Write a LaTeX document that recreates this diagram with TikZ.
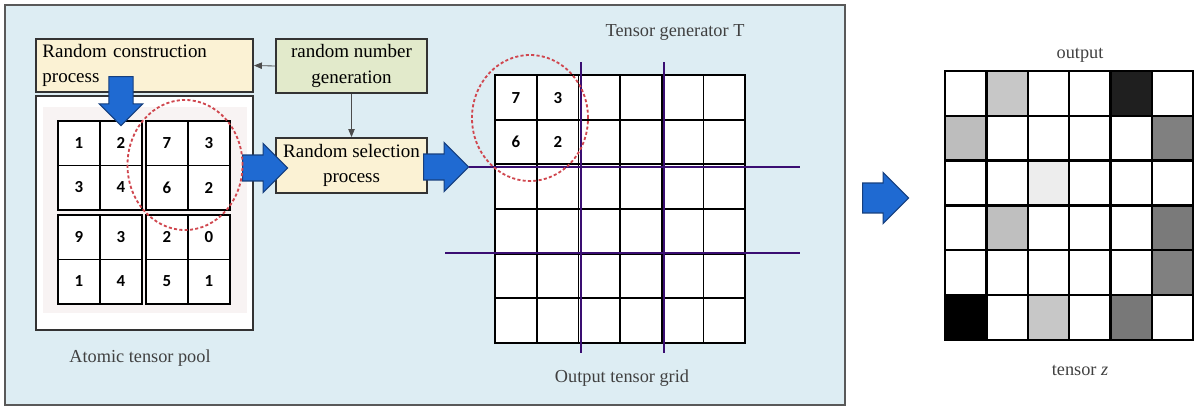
\documentclass[tikz,border=0pt]{standalone}
\usepackage{fontspec}
\setmainfont{Liberation Serif}
\newfontfamily\digitfont{Carlito}
\usepackage{tikz}
\usetikzlibrary{arrows.meta,positioning,shapes.geometric,shapes.arrows}
\usepackage{xcolor}

\definecolor{panelbg}{HTML}{DDEDF3}
\definecolor{boxyellow}{HTML}{FBF2D4}
\definecolor{boxgreen}{HTML}{E2EACB}
\definecolor{poolshade}{HTML}{F8F3F3}
\definecolor{arrowblue}{HTML}{1F6AD2}
\definecolor{arrowedge}{HTML}{163F7E}
\definecolor{cutline}{HTML}{3A0E72}
\definecolor{pickred}{HTML}{D0474F}

\begin{document}
\begin{tikzpicture}[x=0.025cm, y=-0.025cm,
  proc/.style={draw=black!80, line width=1.3pt, font=\fontsize{13.5}{18}\selectfont, inner sep=3pt},
  cellnum/.style={font=\digitfont\bfseries\fontsize{12}{12}\selectfont},
  blk/.style={draw=black, line width=1.2pt},
  lbl/.style={font=\fontsize{13}{15}\selectfont, text=black!75},
  picksel/.style={ellipse, draw=pickred, dash pattern=on 2.2pt off 1.6pt, line width=1.3pt, inner sep=0pt},
  blkarr/.style={single arrow, draw=arrowedge, fill=arrowblue, line width=0.8pt, inner xsep=0pt, anchor=tail},
  link/.style={-{Triangle[length=2mm, width=1.6mm]}, draw=black!70, line width=0.6pt},
  cutln/.style={draw=cutline, line width=2pt}
]
\useasboundingbox (0,0) rectangle (1194,408);

% Panel
\draw[draw=black!65, line width=1.3pt, fill=panelbg] (5,5) rectangle (845,405);

% Process boxes
\node[proc, fill=boxyellow, minimum width=5.425cm, minimum height=1.325cm, text width=5.1cm, align=left] (construct) at (144.5,65.5) {Random construction\\process};
\node[proc, fill=boxgreen, minimum width=3.775cm, minimum height=1.35cm, align=center] (rng) at (351.5,66) {random number\\generation};
\node[proc, fill=boxyellow, minimum width=3.775cm, minimum height=1.375cm, align=center] (select) at (351.5,165.5) {Random selection\\process};
\draw[link] (rng.west) -- (construct.east);
\draw[link] (rng.south) -- (select.north);

% Atomic tensor pool
\node[draw=black!80, line width=1.3pt, fill=white, minimum width=5.425cm, minimum height=5.85cm] (pool) at (144.5,213) {};
\fill[poolshade] (43,107) rectangle (247,313);
\foreach \bx/\by/\a/\b/\c/\d [count=\k] in {58/121/1/2/3/4, 146/121/7/3/6/2, 58/215/9/3/1/4, 146/215/2/0/5/1}{
  \draw[blk, fill=white] (\bx,\by) rectangle ++(84,89);
  \draw[blk] (\bx+42,\by) -- ++(0,89) (\bx,\by+44.5) -- ++(84,0);
  \node[cellnum] (p\k a) at (\bx+21,\by+22) {\a};
  \node[cellnum] (p\k b) at (\bx+63,\by+22) {\b};
  \node[cellnum] (p\k c) at (\bx+21,\by+66.5) {\c};
  \node[cellnum] (p\k d) at (\bx+63,\by+66.5) {\d};
}
\node[lbl] (poolname) at (140,358) {Atomic tensor pool};

% Block arrows
\node[blkarr, inner ysep=0.29cm, minimum height=1.225cm, minimum width=1.05cm, single arrow head extend=0.2375cm, rotate=-90] (drop) at (121,76) {};
\node[blkarr, inner ysep=0.31cm, minimum height=1.125cm, minimum width=1.2cm, single arrow head extend=0.2875cm] (push) at (242,168) {};
\node[blkarr, inner ysep=0.31cm, minimum height=1.125cm, minimum width=1.2cm, single arrow head extend=0.2875cm] (feed) at (423,167) {};

% Tensor generator grid
\draw[blk, fill=white] (495,75) rectangle (745,343);
\foreach \i in {1,...,5}{
  \draw[blk] (495+\i*41.667,75) -- (495+\i*41.667,343);
  \draw[blk] (495,75+\i*44.667) -- (745,75+\i*44.667);
}
\node[cellnum] (g7) at (516,98) {7};
\node[cellnum] (g3) at (558,98) {3};
\node[cellnum] (g6) at (516,142) {6};
\node[cellnum] (g2) at (558,142) {2};
\coordinate (cutend) at (800,167);
\draw[cutln] (581,62) -- (581,353);
\draw[cutln] (664,62) -- (664,353);
\draw[cutln] (feed.tip) -- (cutend);
\draw[cutln] (445,253) -- (800,253);
\node[lbl] (genname) at (675,32) {Tensor generator T};
\node[lbl] (gridname) at (622,378) {Output tensor grid};

% Selection rings
\node[picksel, minimum width=2.875cm, minimum height=3.25cm] (pickpool) at (185,165) {};
\node[picksel, minimum width=2.9cm, minimum height=3.15cm] (pickgrid) at (530,118) {};

% Output tensor
\node[blkarr, inner ysep=0.36cm, minimum height=1.15cm, minimum width=1.25cm, single arrow head extend=0.2625cm] (emit) at (862,198) {};
\foreach \r/\c/\g in {1/2/22, 1/5/88, 2/1/26, 2/6/50, 3/3/7, 4/2/25, 4/6/52, 5/6/50, 6/1/100, 6/3/22, 6/5/53}
  \fill[black!\g] (945+\c*41.4-41.4,71+\r*44.8-44.8) rectangle ++(41.4,44.8);
\draw[black, line width=1.6pt] (945,71) rectangle (1193.4,339.8);
\foreach \i in {1,...,5}{
  \draw[black, line width=1.6pt] (945+\i*41.4,71) -- (945+\i*41.4,339.8);
  \draw[black, line width=1.6pt] (945,71+\i*44.8) -- (1193.4,71+\i*44.8);
}
\node[lbl] (outname) at (1080,55) {output};
\node[lbl] (zname) at (1080,370) {tensor \textit{z}};

\end{tikzpicture}
\end{document}
